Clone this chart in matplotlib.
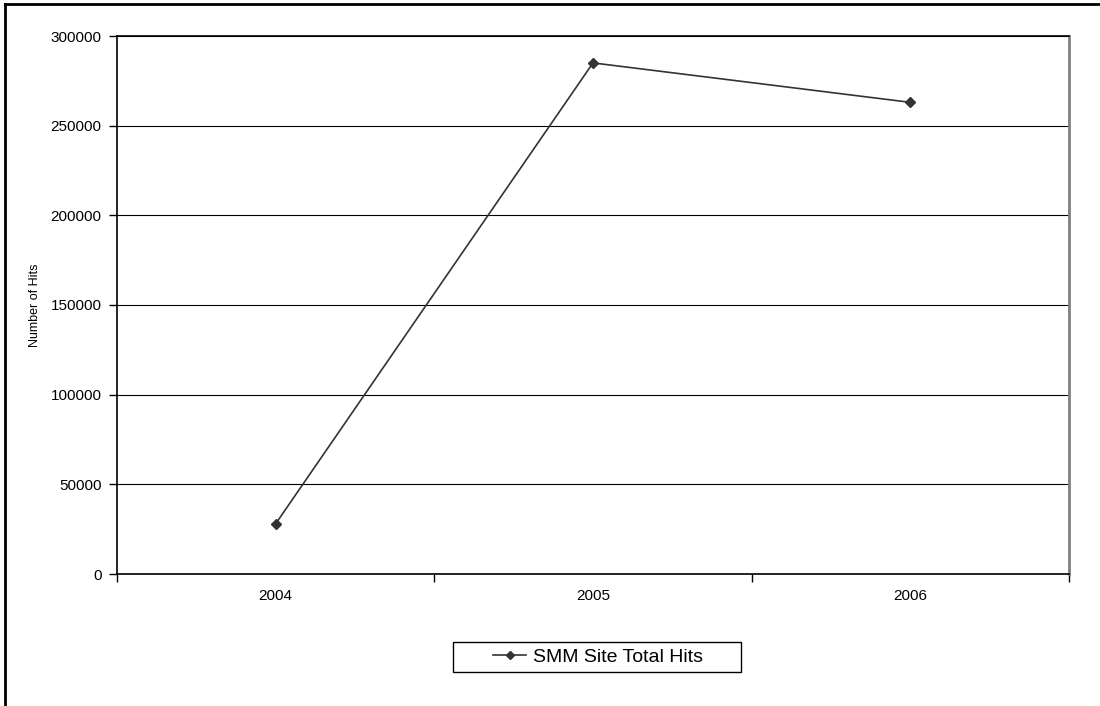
import matplotlib.pyplot as plt
import matplotlib.lines as mlines
import matplotlib.patches as mpatches

plt.rcParams['font.family'] = ['Liberation Sans', 'DejaVu Sans']

years = ['2004', '2005', '2006']
hits = [28000, 285000, 263000]
y_ticks = [0, 50000, 100000, 150000, 200000, 250000, 300000]

W, H = 1100, 706
fig = plt.figure(figsize=(W / 100, H / 100), dpi=100)
ax = fig.add_axes([117 / W, 132 / H, 952 / W, 538 / H])

x = list(range(len(years)))
ax.plot(x, hits, color='#333333', linewidth=1.2, marker='D', markersize=5.5,
        markerfacecolor='#333333', markeredgecolor='#333333',
        label='SMM Site Total Hits')

ax.set_xlim(-0.5, len(years) - 0.5)
ax.set_ylim(0, 300000)
ax.set_yticks(y_ticks)
ax.set_yticklabels([str(v) for v in y_ticks], fontsize=11)
ax.set_xticks(x)
ax.set_xticklabels(years, fontsize=11)
ax.set_xticks([i - 0.5 for i in range(len(years) + 1)], minor=True)
ax.tick_params(axis='x', which='major', length=0, pad=11)
ax.tick_params(axis='x', which='minor', length=6, width=1, direction='out', color='black')
ax.tick_params(axis='y', length=6, width=1, direction='out', color='black', pad=5)

ax.grid(axis='y', color='black', linewidth=0.8)
ax.set_axisbelow(True)
for side in ['left', 'bottom', 'top']:
    ax.spines[side].set_color('black')
    ax.spines[side].set_linewidth(1.2)
ax.spines['right'].set_color('#808080')
ax.spines['right'].set_linewidth(2)

ax.set_ylabel('Number of Hits', fontsize=9, labelpad=7)

# legend text and handle, with its box drawn separately
leg = fig.legend(loc='center', bbox_to_anchor=(598 / W, 1 - 657 / H),
                 frameon=False, fontsize=14, handlelength=1.7,
                 handletextpad=0.35, borderpad=0, borderaxespad=0,
                 markerscale=0.8)
fig.add_artist(mpatches.Rectangle((453 / W, 1 - 672 / H), 288 / W, 30 / H,
                                  fill=False, edgecolor='black', linewidth=1,
                                  transform=fig.transFigure))

# outer chart frame (left and top edges)
fig.add_artist(mlines.Line2D([5 / W, 5 / W], [0, 1 - 4 / H],
                             color='black', linewidth=2, transform=fig.transFigure))
fig.add_artist(mlines.Line2D([5 / W, 1], [1 - 4 / H, 1 - 4 / H],
                             color='black', linewidth=2, transform=fig.transFigure))

fig.savefig('out.png', dpi=100)
